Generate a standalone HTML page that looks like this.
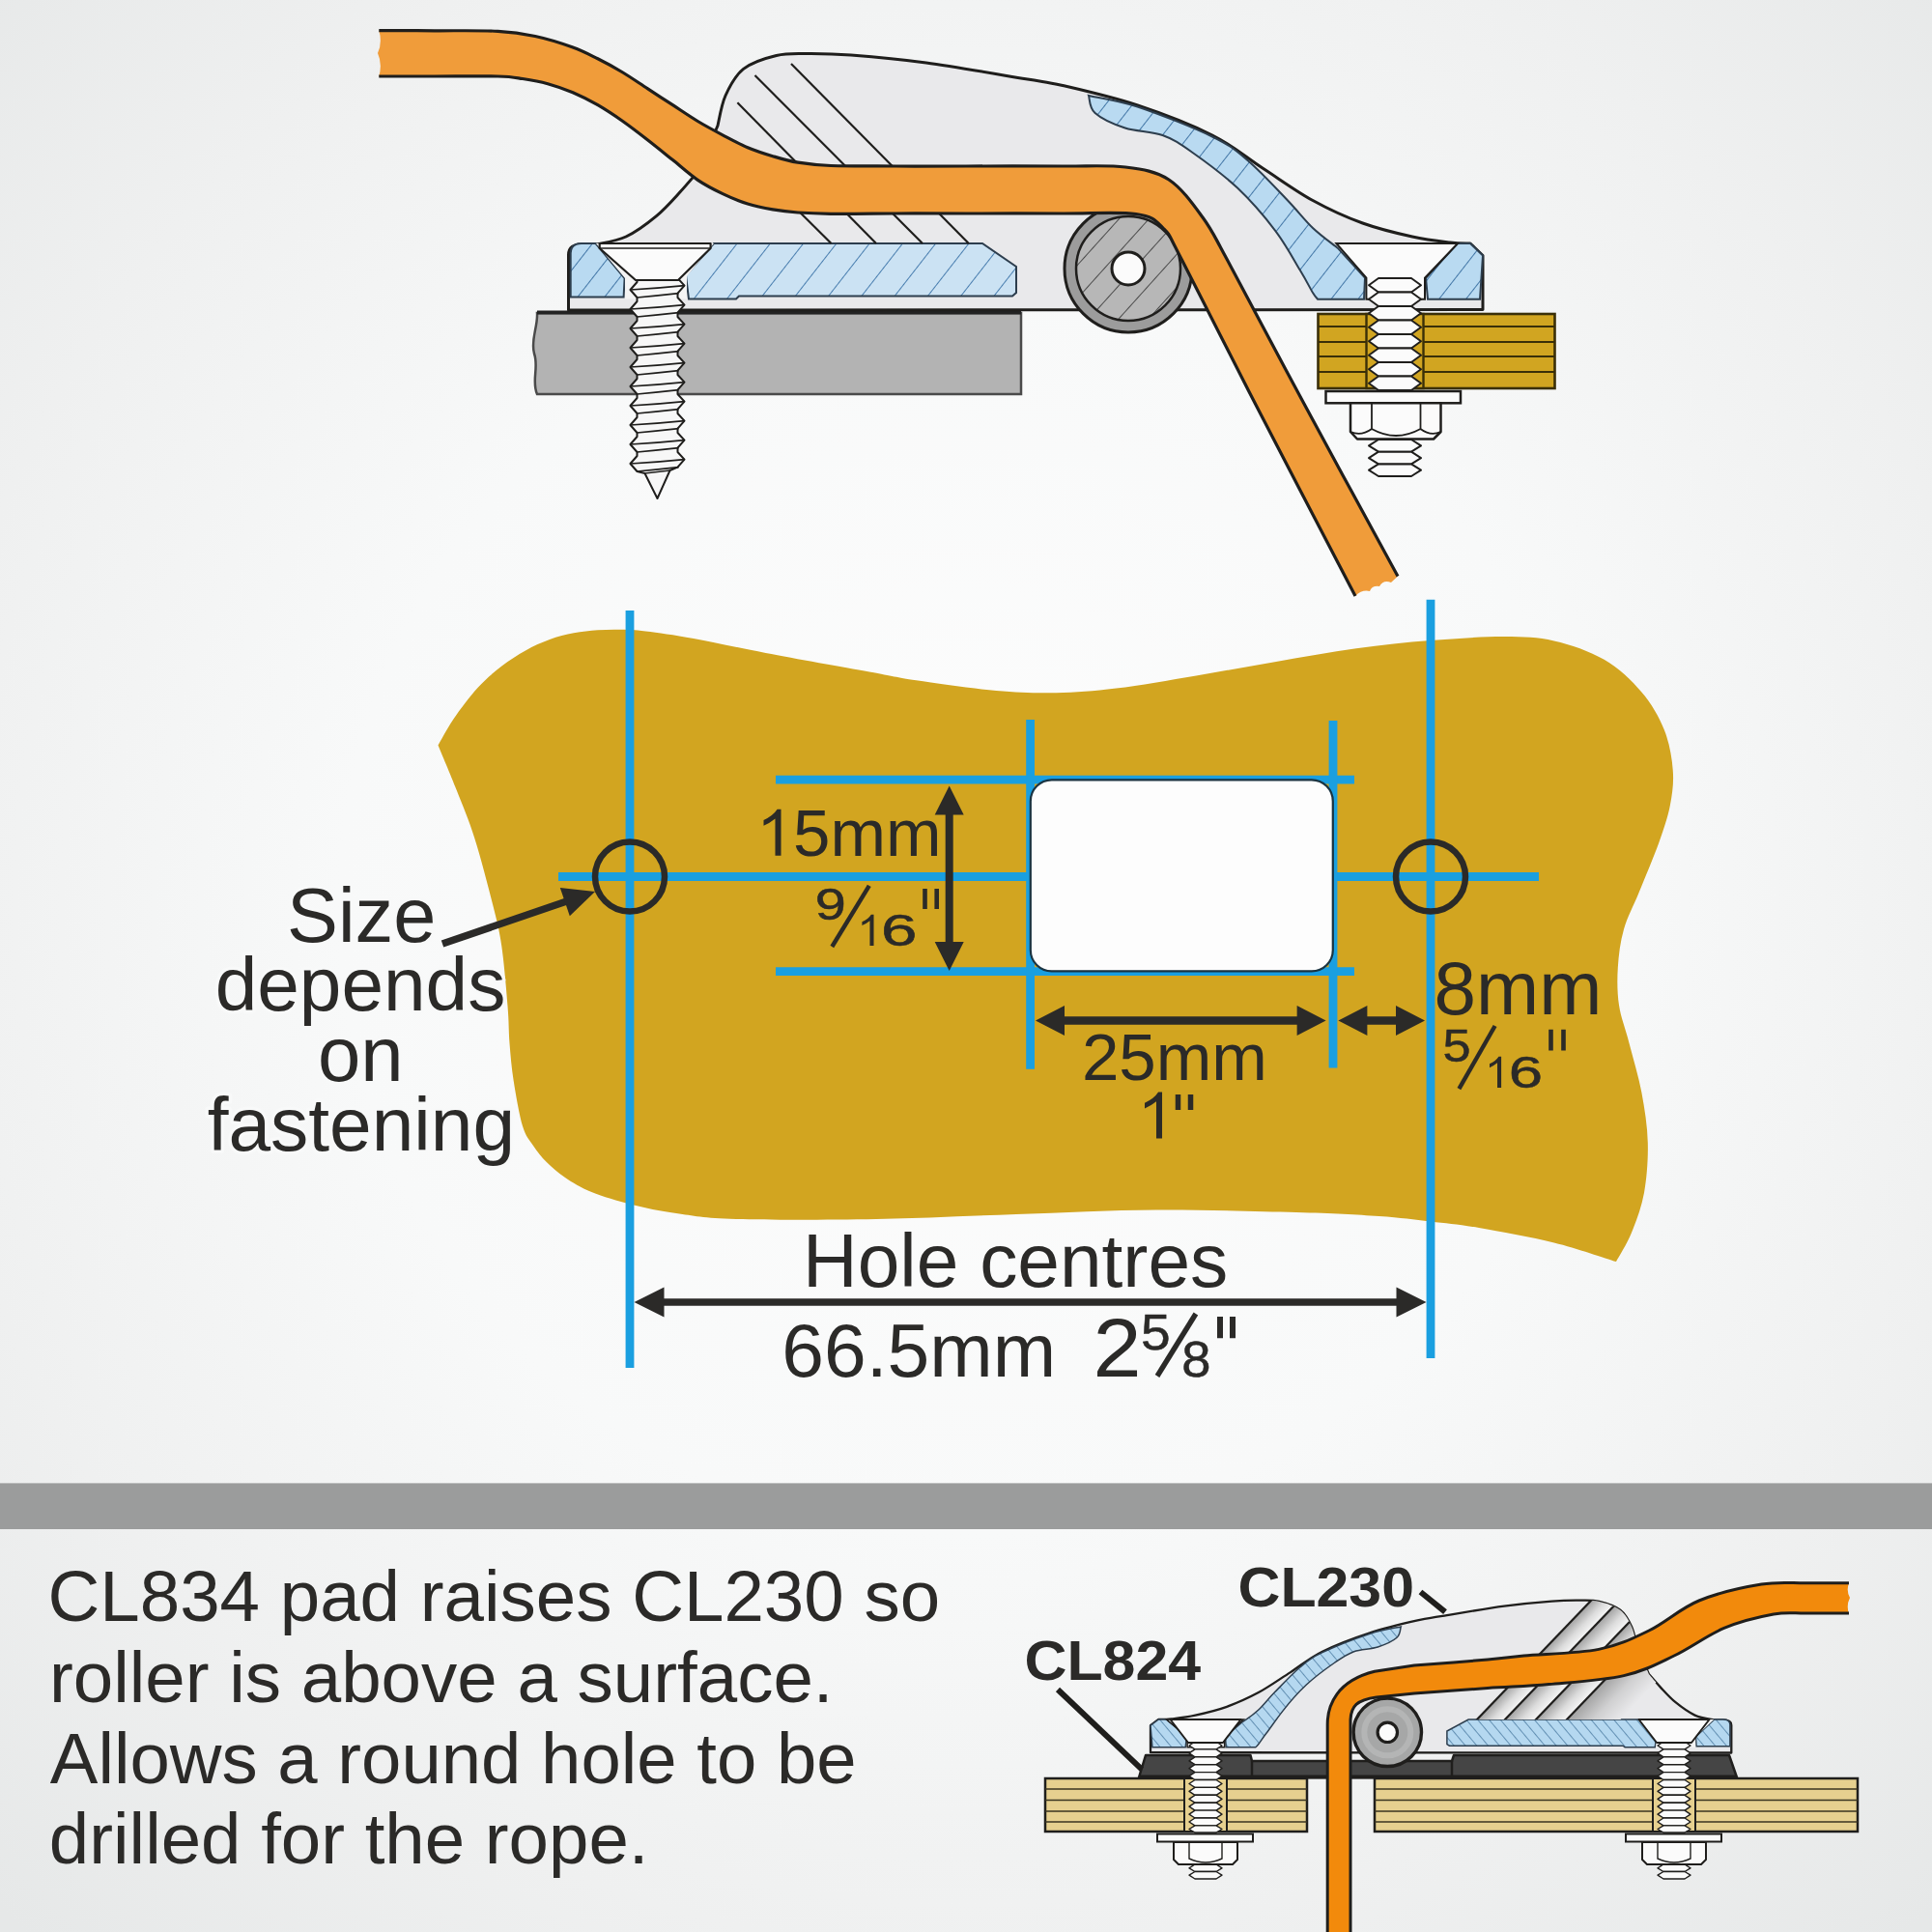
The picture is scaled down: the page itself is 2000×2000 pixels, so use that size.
<!DOCTYPE html>
<html><head><meta charset="utf-8"><title>CL230 fitting</title>
<style>
html,body{margin:0;padding:0;background:#f5f6f6;}
body{width:2000px;height:2000px;overflow:hidden;}
svg{display:block;font-family:"Liberation Sans",sans-serif;}
</style></head><body>
<svg width="2000" height="2000" viewBox="0 0 2000 2000">
<defs>
<radialGradient id="bg" cx="50%" cy="47%" r="72%">
<stop offset="0" stop-color="#fdfdfd"/><stop offset="0.45" stop-color="#f8f9f9"/><stop offset="0.75" stop-color="#eff0f0"/><stop offset="1" stop-color="#e6e8e8"/>
</radialGradient>
<pattern id="hb" width="27" height="27" patternUnits="userSpaceOnUse" patternTransform="rotate(38)">
<rect width="27" height="27" fill="#cbe2f3"/><line x1="0" y1="0" x2="0" y2="27" stroke="#3a73a8" stroke-width="1.8"/>
</pattern>
<pattern id="hb2" width="22" height="22" patternUnits="userSpaceOnUse" patternTransform="rotate(38)">
<rect width="22" height="22" fill="#b9daf1"/><line x1="0" y1="0" x2="0" y2="22" stroke="#356c9f" stroke-width="1.8"/>
</pattern>
<pattern id="hs" width="9" height="9" patternUnits="userSpaceOnUse" patternTransform="rotate(-40)">
<rect width="9" height="9" fill="#b5d8f0"/><line x1="0" y1="0" x2="0" y2="9" stroke="#2c5f8a" stroke-width="1.2"/>
</pattern>
<pattern id="hg" width="23" height="23" patternUnits="userSpaceOnUse" patternTransform="rotate(42)">
<rect width="23" height="23" fill="#b7b7b7"/><line x1="0" y1="0" x2="0" y2="23" stroke="#4a4a4a" stroke-width="2"/>
</pattern>
<linearGradient id="bluefade" x1="0" y1="0" x2="0" y2="1">
<stop offset="0" stop-color="#c3dff4" stop-opacity="0.9"/><stop offset="1" stop-color="#e2f0fa" stop-opacity="0.2"/>
</linearGradient>
<clipPath id="clipSmall"><use href="#bodys"/></clipPath>
<linearGradient id="rg" x1="0" y1="0" x2="0" y2="1">
<stop offset="0" stop-color="#a2a2a2"/><stop offset="0.55" stop-color="#dcdcdc"/><stop offset="1" stop-color="#f6f6f6"/>
</linearGradient>
<linearGradient id="rg2" x1="0" y1="0" x2="0" y2="1">
<stop offset="0" stop-color="#a2a2a2"/><stop offset="0.5" stop-color="#d0d0d1"/><stop offset="1" stop-color="#e9e9eb"/>
</linearGradient>
<clipPath id="clipAbove"><rect x="1400" y="1600" width="400" height="180"/></clipPath>
</defs>
<rect width="2000" height="2000" fill="url(#bg)"/>
<path d="M556,324 L1057,324 L1057,408 L556,408 C550,395 558,380 553,366 C549,352 557,338 556,324 Z" fill="#b3b3b3" stroke="#4a4a4a" stroke-width="2.5"/>
<line x1="556" y1="323.5" x2="1057" y2="323.5" stroke="#222" stroke-width="4"/>
<rect x="1364.5" y="325" width="245" height="77" fill="#d1a521" stroke="#3a2f08" stroke-width="2.6"/>
<line x1="1365" y1="338" x2="1609.5" y2="338" stroke="#3a2f08" stroke-width="2"/>
<line x1="1365" y1="354" x2="1609.5" y2="354" stroke="#3a2f08" stroke-width="2"/>
<line x1="1365" y1="369" x2="1609.5" y2="369" stroke="#3a2f08" stroke-width="2"/>
<line x1="1365" y1="385" x2="1609.5" y2="385" stroke="#3a2f08" stroke-width="2"/>
<rect x="1414.5" y="325" width="59" height="77" fill="#d1a521" stroke="#3a2f08" stroke-width="2.4"/>
<defs><path id="bodyp" d="M588.5,321 L588.5,264 Q588.5,253 602,253 L617,253 C622.2,251.7 637.6,249.9 648.0,245.0 C658.4,240.1 670.2,231.3 679.5,223.6 C688.8,215.9 696.8,206.6 704.0,198.8 C711.2,191.0 719.8,180.6 723.0,177.0 L743,130 C744.3,124.8 746.6,108.8 751.0,99.0 C755.4,89.2 760.8,78.3 769.6,71.4 C778.4,64.5 792.8,60.1 803.7,57.5 C814.6,54.9 821.9,55.6 834.8,55.5 C847.7,55.4 860.3,55.4 881.0,57.0 C901.7,58.6 928.6,60.9 958.8,65.0 C989.0,69.1 1038.5,77.9 1062.0,81.8 C1085.5,85.7 1080.7,84.0 1100.0,88.5 C1119.3,93.0 1151.8,100.4 1177.6,109.0 C1203.4,117.6 1233.4,129.2 1255.0,140.0 C1276.6,150.8 1289.7,162.8 1307.0,174.0 C1324.3,185.2 1341.7,198.0 1359.0,207.5 C1376.3,217.0 1393.4,224.8 1410.6,231.0 C1427.8,237.2 1446.9,241.7 1462.0,245.0 C1477.1,248.3 1491.0,249.8 1501.0,251.0 C1511.0,252.2 1518.5,251.8 1522.0,252.0 L1535,264.5 L1535,320.5 Z"/></defs>
<defs><path id="bodys" d="M1792.3,1814.5 L1792.3,1786.0 Q1792.3,1780.5 1783.7,1780.5 L1774.2,1780.5 C1770.9,1779.8 1761.1,1778.7 1754.5,1775.6 C1747.9,1772.5 1740.4,1767.0 1734.5,1762.2 C1728.6,1757.4 1723.5,1751.5 1718.9,1746.6 C1714.4,1741.7 1708.9,1735.2 1706.9,1732.9 L1694.2,1703.4 C1693.3,1700.2 1691.9,1690.1 1689.1,1684.0 C1686.3,1677.8 1682.9,1671.0 1677.3,1666.7 C1671.7,1662.3 1662.5,1659.6 1655.6,1657.9 C1648.7,1656.3 1644.0,1656.7 1635.9,1656.7 C1627.7,1656.6 1619.7,1656.6 1606.5,1657.6 C1593.3,1658.6 1576.3,1660.1 1557.1,1662.6 C1537.9,1665.2 1506.4,1670.7 1491.5,1673.2 C1476.6,1675.6 1479.6,1674.6 1467.4,1677.4 C1455.1,1680.2 1434.5,1684.9 1418.1,1690.3 C1401.7,1695.7 1382.6,1702.9 1368.9,1709.7 C1355.2,1716.5 1346.9,1724.0 1335.9,1731.1 C1324.9,1738.1 1313.8,1746.1 1302.8,1752.1 C1291.8,1758.0 1281.0,1762.9 1270.0,1766.8 C1259.1,1770.7 1247.0,1773.5 1237.4,1775.6 C1227.8,1777.7 1219.0,1778.6 1212.6,1779.4 C1206.3,1780.1 1201.5,1779.9 1199.3,1780.0 L1191.0,1786.2 L1191.0,1814.2 Z"/></defs>
<use href="#bodyp" fill="#e9e9eb" stroke="#1f1e1c" stroke-width="3" stroke-linejoin="round"/>
<path d="M739.0,252.0 L1017.0,252.0 L1052.0,276.0 L1052.0,303.0 L1048.0,306.5 L765.0,306.5 L762.0,309.5 L713.0,309.5 L710.0,285.0 Z" fill="url(#hb)" stroke="#2d3e4e" stroke-width="2"/>
<path d="M602,252 L616.6,252 L646.6,288 L645.6,307.6 L590.7,307.6 L590.7,262 Q591,252 602,252 Z" fill="url(#hb2)" stroke="#2d3e4e" stroke-width="2"/>
<path d="M1127.0,99.0 C1135.4,100.9 1156.3,103.4 1177.6,110.5 C1198.9,117.6 1236.0,132.2 1255.0,141.5 C1274.0,150.8 1278.5,155.0 1291.5,166.0 C1304.5,177.0 1321.8,195.8 1333.0,207.5 C1344.2,219.2 1350.4,227.8 1359.0,236.0 C1367.6,244.2 1380.4,253.2 1384.7,256.7 L1413,287.7 L1412,309.7 L1364,309.7 C1363.2,308.6 1362.0,307.9 1359.0,303.0 C1356.0,298.1 1352.5,290.7 1346.0,280.0 C1339.5,269.3 1330.8,252.8 1320.0,238.6 C1309.2,224.4 1295.2,208.0 1281.0,194.6 C1266.8,181.2 1247.5,167.1 1234.6,158.0 C1221.7,148.9 1215.2,144.2 1203.5,140.0 C1191.8,135.8 1176.4,136.3 1164.7,132.5 C1153.0,128.7 1139.9,122.6 1133.6,117.0 C1127.3,111.4 1128.1,102.0 1127.0,99.0 Z" fill="url(#hb2)" stroke="#2d3e4e" stroke-width="2"/>
<path d="M1509,252 L1522,252 L1535,264.5 L1532,309.7 L1478,309.7 L1476,287.7 Z" fill="url(#hb2)" stroke="#2d3e4e" stroke-width="2"/>
<path d="M1383.4,252 L1509,252 L1475,287.7 L1475,309.7 L1414.4,309.7 L1414.4,287.7 Z" fill="#fbfbfb" stroke="#1f1e1c" stroke-width="2"/>
<path d="M617,252 L739,252 L711,286 L711,309.5 L647,309.5 L647,288 Z" fill="#f4f4f4" stroke="none"/>
<line x1="790" y1="182" x2="860.5" y2="252" stroke="#1f1e1c" stroke-width="2.2"/>
<line x1="763.4" y1="106.3" x2="907" y2="252" stroke="#1f1e1c" stroke-width="2.2"/>
<line x1="781.5" y1="78" x2="955" y2="252" stroke="#1f1e1c" stroke-width="2.2"/>
<line x1="819" y1="66" x2="1002.8" y2="252" stroke="#1f1e1c" stroke-width="2.2"/>
<circle cx="1168" cy="278" r="66" fill="#9c9c9c" stroke="#1f1e1c" stroke-width="3"/>
<circle cx="1168" cy="278" r="54" fill="url(#hg)" stroke="#1f1e1c" stroke-width="2.5"/>
<circle cx="1168" cy="278" r="17" fill="#fbfbfb" stroke="#1f1e1c" stroke-width="3"/>
<path d="M659.5,290.0 L659.5,292.0 L652.5,300.0 L659.5,308.0 L659.5,312.0 L652.5,320.0 L659.5,328.0 L659.5,332.0 L652.5,340.0 L659.5,348.0 L659.5,352.0 L652.5,360.0 L659.5,368.0 L659.5,372.0 L652.5,380.0 L659.5,388.0 L659.5,392.0 L652.5,400.0 L659.5,408.0 L659.5,412.0 L652.5,420.0 L659.5,428.0 L659.5,432.0 L652.5,440.0 L659.5,448.0 L659.5,452.0 L652.5,460.0 L659.5,468.0 L659.5,472.0 L652.5,480.0 L659.5,488.0 L667.5,490.0 L680.5,516.0 L693.5,487.0 L701.5,483.6 L708.5,475.6 L701.5,468.0 L701.5,463.6 L708.5,455.6 L701.5,448.0 L701.5,443.6 L708.5,435.6 L701.5,428.0 L701.5,423.6 L708.5,415.6 L701.5,408.0 L701.5,403.6 L708.5,395.6 L701.5,388.0 L701.5,383.6 L708.5,375.6 L701.5,368.0 L701.5,363.6 L708.5,355.6 L701.5,348.0 L701.5,343.6 L708.5,335.6 L701.5,328.0 L701.5,323.6 L708.5,315.6 L701.5,308.0 L701.5,303.6 L708.5,295.6 L701.5,288.0 L701.5,290.0 Z" fill="#f7f7f7" stroke="#1f1e1c" stroke-width="2.0" stroke-linejoin="round"/><path d="M652.5,300.0 Q680.5,298.4 708.5,295.6 M659.5,308.0 Q680.5,306.0 702.5,303.6" fill="none" stroke="#1f1e1c" stroke-width="1.6"/><path d="M652.5,320.0 Q680.5,318.4 708.5,315.6 M659.5,328.0 Q680.5,326.0 702.5,323.6" fill="none" stroke="#1f1e1c" stroke-width="1.6"/><path d="M652.5,340.0 Q680.5,338.4 708.5,335.6 M659.5,348.0 Q680.5,346.0 702.5,343.6" fill="none" stroke="#1f1e1c" stroke-width="1.6"/><path d="M652.5,360.0 Q680.5,358.4 708.5,355.6 M659.5,368.0 Q680.5,366.0 702.5,363.6" fill="none" stroke="#1f1e1c" stroke-width="1.6"/><path d="M652.5,380.0 Q680.5,378.4 708.5,375.6 M659.5,388.0 Q680.5,386.0 702.5,383.6" fill="none" stroke="#1f1e1c" stroke-width="1.6"/><path d="M652.5,400.0 Q680.5,398.4 708.5,395.6 M659.5,408.0 Q680.5,406.0 702.5,403.6" fill="none" stroke="#1f1e1c" stroke-width="1.6"/><path d="M652.5,420.0 Q680.5,418.4 708.5,415.6 M659.5,428.0 Q680.5,426.0 702.5,423.6" fill="none" stroke="#1f1e1c" stroke-width="1.6"/><path d="M652.5,440.0 Q680.5,438.4 708.5,435.6 M659.5,448.0 Q680.5,446.0 702.5,443.6" fill="none" stroke="#1f1e1c" stroke-width="1.6"/><path d="M652.5,460.0 Q680.5,458.4 708.5,455.6 M659.5,468.0 Q680.5,466.0 702.5,463.6" fill="none" stroke="#1f1e1c" stroke-width="1.6"/><path d="M652.5,480.0 Q680.5,478.4 708.5,475.6 M659.5,488.0 Q680.5,486.0 702.5,483.6" fill="none" stroke="#1f1e1c" stroke-width="1.6"/><line x1="667.5" y1="490.0" x2="693.5" y2="487.0" stroke="#1f1e1c" stroke-width="1.6"/>
<path d="M620.7,252 L735.6,252 L735.6,257 L702,290 L658,290 L620.7,257 Z" fill="#fbfbfb" stroke="#1f1e1c" stroke-width="2.2" stroke-linejoin="round"/>
<line x1="620.7" y1="257" x2="735.6" y2="257" stroke="#1f1e1c" stroke-width="1.6"/>
<path d="M1417.0,295.2 L1427.0,288.0 L1461.0,288.0 L1471.0,295.2 L1461.0,302.5 L1427.0,302.5 Z" fill="#fbfbfb" stroke="#1f1e1c" stroke-width="2.0" stroke-linejoin="round"/><path d="M1417.0,309.8 L1427.0,302.5 L1461.0,302.5 L1471.0,309.8 L1461.0,317.0 L1427.0,317.0 Z" fill="#fbfbfb" stroke="#1f1e1c" stroke-width="2.0" stroke-linejoin="round"/><path d="M1417.0,324.2 L1427.0,317.0 L1461.0,317.0 L1471.0,324.2 L1461.0,331.5 L1427.0,331.5 Z" fill="#fbfbfb" stroke="#1f1e1c" stroke-width="2.0" stroke-linejoin="round"/><path d="M1417.0,338.8 L1427.0,331.5 L1461.0,331.5 L1471.0,338.8 L1461.0,346.0 L1427.0,346.0 Z" fill="#fbfbfb" stroke="#1f1e1c" stroke-width="2.0" stroke-linejoin="round"/><path d="M1417.0,353.2 L1427.0,346.0 L1461.0,346.0 L1471.0,353.2 L1461.0,360.5 L1427.0,360.5 Z" fill="#fbfbfb" stroke="#1f1e1c" stroke-width="2.0" stroke-linejoin="round"/><path d="M1417.0,367.8 L1427.0,360.5 L1461.0,360.5 L1471.0,367.8 L1461.0,375.0 L1427.0,375.0 Z" fill="#fbfbfb" stroke="#1f1e1c" stroke-width="2.0" stroke-linejoin="round"/><path d="M1417.0,382.2 L1427.0,375.0 L1461.0,375.0 L1471.0,382.2 L1461.0,389.5 L1427.0,389.5 Z" fill="#fbfbfb" stroke="#1f1e1c" stroke-width="2.0" stroke-linejoin="round"/><path d="M1417.0,396.8 L1427.0,389.5 L1461.0,389.5 L1471.0,396.8 L1461.0,404.0 L1427.0,404.0 Z" fill="#fbfbfb" stroke="#1f1e1c" stroke-width="2.0" stroke-linejoin="round"/>
<path d="M1417.0,461.4 L1427.0,455.0 L1461.0,455.0 L1471.0,461.4 L1461.0,467.7 L1427.0,467.7 Z" fill="#fbfbfb" stroke="#1f1e1c" stroke-width="2.0" stroke-linejoin="round"/><path d="M1417.0,474.1 L1427.0,467.7 L1461.0,467.7 L1471.0,474.1 L1461.0,480.4 L1427.0,480.4 Z" fill="#fbfbfb" stroke="#1f1e1c" stroke-width="2.0" stroke-linejoin="round"/><path d="M1417.0,486.7 L1427.0,480.4 L1461.0,480.4 L1471.0,486.7 L1461.0,493.0 L1427.0,493.0 Z" fill="#fbfbfb" stroke="#1f1e1c" stroke-width="2.0" stroke-linejoin="round"/>
<rect x="1372.5" y="405" width="139.5" height="12.3" fill="#fbfbfb" stroke="#1f1e1c" stroke-width="2.5"/>
<path d="M1398,417.3 L1491.5,417.3 L1491.5,447 L1484,454.5 L1405,454.5 L1398,447 Z" fill="#fbfbfb" stroke="#1f1e1c" stroke-width="2.5" stroke-linejoin="round"/>
<path d="M1420,417.3 L1420,444 Q1445,458 1470.5,444 L1470.5,417.3 M1398,447 Q1409,452 1420,444 M1470.5,444 Q1481,452 1491.5,447" fill="none" stroke="#1f1e1c" stroke-width="1.8"/>
<path d="M392.3,31.6 C401.9,31.6 429.5,31.7 450.0,31.8 C470.5,31.9 498.0,31.3 515.3,32.3 C532.6,33.2 541.0,34.7 554.0,37.5 C567.0,40.3 582.2,45.1 593.0,49.0 C603.8,52.9 610.2,56.5 618.8,60.8 C627.4,65.1 636.1,69.8 644.7,75.0 C653.3,80.2 662.0,86.3 670.6,91.9 C679.2,97.5 687.8,103.1 696.4,108.7 C705.0,114.3 713.7,120.3 722.3,125.5 C730.9,130.7 739.6,135.3 748.2,139.8 C756.8,144.3 765.4,149.0 774.0,152.7 C782.6,156.3 791.4,159.1 800.0,161.7 C808.6,164.3 815.9,166.6 825.9,168.2 C835.9,169.8 843.0,170.9 860.0,171.5 C877.0,172.1 904.7,171.9 928.0,172.0 C951.3,172.1 971.3,172.0 1000.0,172.0 C1028.7,172.0 1072.5,171.8 1100.0,172.0 C1127.5,172.2 1146.7,170.7 1165.0,173.0 C1183.3,175.3 1196.7,177.3 1210.0,186.0 C1223.3,194.7 1234.8,211.0 1245.0,225.0 C1255.2,239.0 1253.5,237.8 1271.0,270.0 C1288.5,302.2 1320.7,363.6 1350.0,418.0 C1379.3,472.4 1430.8,566.7 1447.0,596.4 L1440,603 Q1432,600 1428,607 Q1420,606 1418,612 Q1410,610 1403,617 C1385.8,584.0 1329.8,476.8 1300.0,419.0 C1270.2,361.2 1240.0,300.5 1224.0,270.0 C1208.0,239.5 1212.0,244.1 1204.0,236.0 C1196.0,227.9 1193.3,224.0 1176.0,221.5 C1158.7,219.0 1129.3,221.1 1100.0,221.0 C1070.7,220.9 1028.7,221.0 1000.0,221.0 C971.3,221.0 951.3,220.9 928.0,221.0 C904.7,221.1 877.0,221.5 860.0,221.3 C843.0,221.1 835.9,220.7 825.9,220.0 C815.9,219.3 808.6,218.4 800.0,216.9 C791.4,215.4 782.6,213.7 774.0,211.0 C765.4,208.3 756.8,204.7 748.2,200.6 C739.6,196.5 730.9,192.1 722.3,186.3 C713.7,180.5 705.0,172.5 696.4,165.6 C687.8,158.7 679.2,151.7 670.6,145.0 C662.0,138.3 653.3,131.6 644.7,125.5 C636.1,119.5 627.4,113.7 618.8,108.7 C610.2,103.8 601.6,99.5 593.0,95.8 C584.4,92.1 575.7,89.1 567.0,86.7 C558.3,84.3 549.6,82.8 541.0,81.5 C532.4,80.2 530.5,79.4 515.3,79.0 C500.1,78.6 470.5,79.0 450.0,79.0 C429.5,79.0 401.9,79.0 392.3,79.0 Q396,66 391,55 Q396,44 392.3,31.6 Z" fill="#f09c3a"/>
<path d="M392.3,31.6 C401.9,31.6 429.5,31.7 450.0,31.8 C470.5,31.9 498.0,31.3 515.3,32.3 C532.6,33.2 541.0,34.7 554.0,37.5 C567.0,40.3 582.2,45.1 593.0,49.0 C603.8,52.9 610.2,56.5 618.8,60.8 C627.4,65.1 636.1,69.8 644.7,75.0 C653.3,80.2 662.0,86.3 670.6,91.9 C679.2,97.5 687.8,103.1 696.4,108.7 C705.0,114.3 713.7,120.3 722.3,125.5 C730.9,130.7 739.6,135.3 748.2,139.8 C756.8,144.3 765.4,149.0 774.0,152.7 C782.6,156.3 791.4,159.1 800.0,161.7 C808.6,164.3 815.9,166.6 825.9,168.2 C835.9,169.8 843.0,170.9 860.0,171.5 C877.0,172.1 904.7,171.9 928.0,172.0 C951.3,172.1 971.3,172.0 1000.0,172.0 C1028.7,172.0 1072.5,171.8 1100.0,172.0 C1127.5,172.2 1146.7,170.7 1165.0,173.0 C1183.3,175.3 1196.7,177.3 1210.0,186.0 C1223.3,194.7 1234.8,211.0 1245.0,225.0 C1255.2,239.0 1253.5,237.8 1271.0,270.0 C1288.5,302.2 1320.7,363.6 1350.0,418.0 C1379.3,472.4 1430.8,566.7 1447.0,596.4" fill="none" stroke="#1f1e1c" stroke-width="3.2" stroke-linecap="butt"/>
<path d="M1403.0,617.0 C1385.8,584.0 1329.8,476.8 1300.0,419.0 C1270.2,361.2 1240.0,300.5 1224.0,270.0 C1208.0,239.5 1212.0,244.1 1204.0,236.0 C1196.0,227.9 1193.3,224.0 1176.0,221.5 C1158.7,219.0 1129.3,221.1 1100.0,221.0 C1070.7,220.9 1028.7,221.0 1000.0,221.0 C971.3,221.0 951.3,220.9 928.0,221.0 C904.7,221.1 877.0,221.5 860.0,221.3 C843.0,221.1 835.9,220.7 825.9,220.0 C815.9,219.3 808.6,218.4 800.0,216.9 C791.4,215.4 782.6,213.7 774.0,211.0 C765.4,208.3 756.8,204.7 748.2,200.6 C739.6,196.5 730.9,192.1 722.3,186.3 C713.7,180.5 705.0,172.5 696.4,165.6 C687.8,158.7 679.2,151.7 670.6,145.0 C662.0,138.3 653.3,131.6 644.7,125.5 C636.1,119.5 627.4,113.7 618.8,108.7 C610.2,103.8 601.6,99.5 593.0,95.8 C584.4,92.1 575.7,89.1 567.0,86.7 C558.3,84.3 549.6,82.8 541.0,81.5 C532.4,80.2 530.5,79.4 515.3,79.0 C500.1,78.6 470.5,79.0 450.0,79.0 C429.5,79.0 401.9,79.0 392.3,79.0" fill="none" stroke="#1f1e1c" stroke-width="3.2" stroke-linecap="butt"/>
<path d="M453.5,771.6 C456.2,767.0 462.9,753.9 469.7,744.0 C476.5,734.1 486.2,721.1 494.5,712.0 C502.8,702.9 511.1,696.0 519.4,689.6 C527.6,683.2 535.7,678.0 544.0,673.4 C552.3,668.8 560.7,665.0 569.0,662.0 C577.3,659.0 585.7,656.9 594.0,655.3 C602.3,653.7 610.5,652.9 618.8,652.3 C627.1,651.7 635.3,651.6 643.6,651.8 C651.9,652.0 656.0,652.0 668.4,653.5 C680.8,655.0 697.3,657.2 718.0,661.0 C738.7,664.8 762.4,670.2 792.7,676.0 C823.0,681.8 874.0,690.8 900.0,695.5 C926.0,700.2 926.5,701.0 948.4,704.3 C970.3,707.5 1007.1,712.9 1031.3,715.0 C1055.5,717.1 1072.7,717.6 1093.4,717.2 C1114.1,716.8 1131.3,715.6 1155.5,712.6 C1179.7,709.6 1210.7,704.0 1238.3,699.4 C1265.9,694.8 1293.4,689.6 1321.0,684.9 C1348.6,680.2 1377.4,674.9 1404.0,671.2 C1430.6,667.6 1455.2,665.0 1480.7,663.0 C1506.2,661.0 1535.7,658.9 1557.0,659.0 C1578.3,659.1 1591.5,659.4 1608.8,663.4 C1626.1,667.4 1645.5,673.9 1660.6,682.8 C1675.7,691.6 1689.1,704.4 1699.4,716.5 C1709.8,728.6 1717.3,741.9 1722.7,755.3 C1728.1,768.7 1730.7,783.8 1731.7,796.7 C1732.8,809.7 1731.4,820.5 1729.0,833.0 C1726.6,845.5 1722.9,856.6 1717.5,871.7 C1712.1,886.8 1702.9,908.5 1696.8,923.5 C1690.7,938.5 1684.7,949.0 1681.0,962.0 C1677.3,975.0 1675.6,988.7 1674.8,1001.8 C1674.0,1014.9 1674.1,1027.7 1676.0,1040.6 C1677.9,1053.5 1682.5,1064.3 1686.4,1079.4 C1690.3,1094.5 1696.2,1113.7 1699.4,1131.0 C1702.6,1148.3 1705.4,1165.7 1705.8,1183.0 C1706.2,1200.3 1704.8,1219.2 1702.0,1234.7 C1699.2,1250.2 1693.8,1264.1 1689.0,1276.0 C1684.2,1287.9 1675.7,1301.0 1673.0,1306.0 C1662.3,1302.7 1632.5,1292.2 1608.8,1286.4 C1585.1,1280.6 1552.3,1274.7 1531.0,1271.0 C1509.7,1267.3 1497.9,1266.4 1480.7,1264.4 C1463.5,1262.4 1450.7,1260.6 1427.6,1259.0 C1404.5,1257.4 1380.4,1256.1 1342.0,1255.0 C1303.6,1253.9 1245.3,1252.2 1197.0,1252.5 C1148.7,1252.8 1100.3,1255.4 1052.0,1257.0 C1003.7,1258.6 955.3,1261.2 907.0,1262.0 C858.7,1262.8 796.5,1263.0 762.0,1262.0 C727.5,1261.0 718.0,1258.5 700.0,1256.0 C682.0,1253.5 668.6,1250.7 654.0,1247.0 C639.4,1243.3 623.9,1238.7 612.4,1234.0 C600.9,1229.3 592.8,1224.2 585.0,1219.0 C577.2,1213.8 571.3,1208.5 565.8,1203.0 C560.3,1197.5 556.1,1192.2 552.0,1186.0 C547.9,1179.8 544.4,1177.0 541.0,1165.8 C537.6,1154.6 534.0,1133.3 531.7,1119.0 C529.5,1104.7 528.5,1092.9 527.5,1080.0 C526.5,1067.1 526.9,1058.3 525.5,1041.6 C524.1,1024.8 521.9,997.1 519.3,979.5 C516.7,961.9 514.7,954.6 510.0,936.0 C505.3,917.4 497.5,887.4 491.3,867.7 C485.1,848.0 479.0,834.0 472.7,818.0 C466.4,802.0 456.7,779.3 453.5,771.6 Z" fill="#d2a520"/>
<line x1="652" y1="632" x2="652" y2="1416" stroke="#1a9fe0" stroke-width="8.8"/>
<line x1="1481" y1="620.7" x2="1481" y2="1406" stroke="#1a9fe0" stroke-width="8.8"/>
<line x1="578" y1="907.5" x2="1066.6" y2="907.5" stroke="#1a9fe0" stroke-width="8.8"/>
<line x1="1380" y1="907.5" x2="1593" y2="907.5" stroke="#1a9fe0" stroke-width="8.8"/>
<line x1="803" y1="807.2" x2="1402" y2="807.2" stroke="#1a9fe0" stroke-width="8.8"/>
<line x1="803" y1="1005.6" x2="1402" y2="1005.6" stroke="#1a9fe0" stroke-width="8.8"/>
<line x1="1066.6" y1="745" x2="1066.6" y2="1106.7" stroke="#1a9fe0" stroke-width="8.8"/>
<line x1="1380" y1="746" x2="1380" y2="1105.5" stroke="#1a9fe0" stroke-width="8.8"/>
<rect x="1066.8" y="807.4" width="313" height="198" rx="22" ry="22" fill="#fdfdfd" stroke="#1a3442" stroke-width="2.2"/>
<circle cx="652" cy="907.5" r="36" fill="none" stroke="#2b2a28" stroke-width="6.5"/>
<circle cx="1481" cy="907.5" r="36" fill="none" stroke="#2b2a28" stroke-width="6.5"/>
<line x1="982.7" y1="837.5" x2="982.7" y2="981.0" stroke="#2b2a28" stroke-width="8"/><path d="M982.7,1005.0 L967.7,975.0 L997.7,975.0 Z" fill="#2b2a28"/><path d="M982.7,813.5 L967.7,843.5 L997.7,843.5 Z" fill="#2b2a28"/>
<line x1="1096.0" y1="1056.5" x2="1348.6" y2="1056.5" stroke="#2b2a28" stroke-width="8.5"/><path d="M1372.6,1056.5 L1342.6,1072.0 L1342.6,1041.0 Z" fill="#2b2a28"/><path d="M1072.0,1056.5 L1102.0,1072.0 L1102.0,1041.0 Z" fill="#2b2a28"/>
<line x1="1409.4" y1="1056.5" x2="1451.0" y2="1056.5" stroke="#2b2a28" stroke-width="8.5"/><path d="M1475.0,1056.5 L1445.0,1072.0 L1445.0,1041.0 Z" fill="#2b2a28"/><path d="M1385.4,1056.5 L1415.4,1072.0 L1415.4,1041.0 Z" fill="#2b2a28"/>
<line x1="681.3" y1="1348.0" x2="1451.7" y2="1348.0" stroke="#2b2a28" stroke-width="7.5"/><path d="M1476.5,1348.0 L1445.5,1363.5 L1445.5,1332.5 Z" fill="#2b2a28"/><path d="M656.5,1348.0 L687.5,1363.5 L687.5,1332.5 Z" fill="#2b2a28"/>
<line x1="458.0" y1="977.0" x2="591.0" y2="931.5" stroke="#2b2a28" stroke-width="7.5"/><path d="M616.0,923.0 L589.8,948.3 L579.8,919.0 Z" fill="#2b2a28"/>
<text transform="translate(297.00,974.50) scale(1.0000,1)" font-size="79.33" font-weight="normal" fill="#2b2a28" stroke="#f8f9f9" stroke-width="7" stroke-linejoin="round" paint-order="stroke">Size</text>
<text transform="translate(222.71,1045.50) scale(1.0000,1)" font-size="78.35" font-weight="normal" fill="#2b2a28" stroke="#f8f9f9" stroke-width="7" stroke-linejoin="round" paint-order="stroke">depends</text>
<text transform="translate(328.95,1118.50) scale(1.0000,1)" font-size="79.67" font-weight="normal" fill="#2b2a28" stroke="#f8f9f9" stroke-width="7" stroke-linejoin="round" paint-order="stroke">on</text>
<text transform="translate(214.69,1191.00) scale(1.0000,1)" font-size="78.44" font-weight="normal" fill="#2b2a28" stroke="#f8f9f9" stroke-width="7" stroke-linejoin="round" paint-order="stroke">fastening</text>
<path d="M808.52,885.70 L802.49,885.70 L802.49,847.48 Q796.73,852.13 790.50,854.74 L790.50,848.92 Q800.16,844.60 804.61,837.75 L808.52,837.75 Z" fill="#2b2a28"/>
<text transform="translate(821.10,885.70) scale(1.0081,1)" font-size="68.5" font-weight="normal" fill="#2b2a28" >5mm</text>
<text transform="translate(1119.92,1117.60) scale(1.0000,1)" font-size="69.12" font-weight="normal" fill="#2b2a28" >25mm</text>
<path d="M1203.02,1178.50 L1196.99,1178.50 L1196.99,1140.28 Q1191.23,1144.93 1185.00,1147.54 L1185.00,1141.72 Q1194.66,1137.40 1199.11,1130.55 L1203.02,1130.55 Z" fill="#2b2a28"/>
<path d="M1219.5,1133 v16 M1232.5,1133 v16" stroke="#2b2a28" stroke-width="5.5" fill="none"/>
<text transform="translate(1484.60,1049.60) scale(1.0000,1)" font-size="78.19" font-weight="normal" fill="#2b2a28" >8mm</text>
<text transform="translate(831.07,1331.70) scale(1.0000,1)" font-size="78.43" font-weight="normal" fill="#2b2a28" >Hole centres</text>
<text transform="translate(809.31,1424.90) scale(1.0001,1)" font-size="78.58" font-weight="normal" fill="#2b2a28" >66.5mm</text>
<text transform="translate(843.70,951.70) scale(1.2252,1)" font-size="47" font-weight="normal" fill="#2b2a28" stroke="#2b2a28" stroke-width="0.5">9</text>
<path d="M904.50,978.90 L900.45,978.90 L900.45,953.23 Q896.59,956.36 892.40,958.11 L892.40,954.20 Q898.89,951.30 901.88,946.70 L904.50,946.70 Z" fill="#2b2a28"/>
<text transform="translate(911.88,978.90) scale(1.4653,1)" font-size="46" font-weight="normal" fill="#2b2a28" stroke="#2b2a28" stroke-width="0.5">6</text>
<line x1="861.3" y1="980" x2="899.8" y2="916.8" stroke="#2b2a28" stroke-width="4.4"/>
<path d="M957.5,920 V941 M969.7,920 V941" stroke="#2b2a28" stroke-width="4.6" fill="none"/>
<text transform="translate(1493.41,1098.50) scale(1.0675,1)" font-size="49" font-weight="normal" fill="#2b2a28" stroke="#2b2a28" stroke-width="0.5">5</text>
<path d="M1554.10,1126.00 L1550.05,1126.00 L1550.05,1100.33 Q1546.19,1103.46 1542.00,1105.21 L1542.00,1101.30 Q1548.49,1098.40 1551.48,1093.80 L1554.10,1093.80 Z" fill="#2b2a28"/>
<text transform="translate(1561.67,1126.00) scale(1.3805,1)" font-size="46" font-weight="normal" fill="#2b2a28" stroke="#2b2a28" stroke-width="0.5">6</text>
<line x1="1510.4" y1="1127.2" x2="1547.6" y2="1062" stroke="#2b2a28" stroke-width="4.4"/>
<path d="M1605.5,1065.7 V1087.5 M1618.5,1065.7 V1087.5" stroke="#2b2a28" stroke-width="4.6" fill="none"/>
<text transform="translate(1131.47,1424.50) scale(1.0588,1)" font-size="85" font-weight="normal" fill="#2b2a28" >2</text>
<text transform="translate(1181.00,1396.50) scale(1.0586,1)" font-size="52" font-weight="normal" fill="#2b2a28" stroke="#2b2a28" stroke-width="0.5">5</text>
<text transform="translate(1223.14,1424.50) scale(1.0451,1)" font-size="52" font-weight="normal" fill="#2b2a28" stroke="#2b2a28" stroke-width="0.5">8</text>
<line x1="1198" y1="1424.5" x2="1237.9" y2="1360" stroke="#2b2a28" stroke-width="5.4"/>
<path d="M1263,1363 V1385.3 M1276,1363 V1385.3" stroke="#2b2a28" stroke-width="6" fill="none"/>
<rect x="0" y="1535.4" width="2000" height="47.6" fill="#9b9c9c"/>
<text transform="translate(49.52,1678.00) scale(1.0000,1)" font-size="74.5" font-weight="normal" fill="#2b2a28" >CL834 pad raises CL230 so</text>
<text transform="translate(50.95,1762.00) scale(1.0000,1)" font-size="74.52" font-weight="normal" fill="#2b2a28" >roller is above a surface.</text>
<text transform="translate(51.85,1845.50) scale(1.0001,1)" font-size="74.34" font-weight="normal" fill="#2b2a28" >Allows a round hole to be</text>
<text transform="translate(50.87,1929.00) scale(0.9999,1)" font-size="74.45" font-weight="normal" fill="#2b2a28" >drilled for the rope.</text>
<rect x="1082" y="1841" width="271" height="55" fill="#e6d08f" stroke="#1f1e1c" stroke-width="2.5"/>
<line x1="1082" y1="1852" x2="1353" y2="1852" stroke="#3a3420" stroke-width="1.5"/>
<line x1="1082" y1="1863.5" x2="1353" y2="1863.5" stroke="#3a3420" stroke-width="1.5"/>
<line x1="1082" y1="1875" x2="1353" y2="1875" stroke="#3a3420" stroke-width="1.5"/>
<line x1="1082" y1="1886" x2="1353" y2="1886" stroke="#3a3420" stroke-width="1.5"/>
<rect x="1423" y="1841" width="500" height="55" fill="#e6d08f" stroke="#1f1e1c" stroke-width="2.5"/>
<line x1="1423" y1="1852" x2="1923" y2="1852" stroke="#3a3420" stroke-width="1.5"/>
<line x1="1423" y1="1863.5" x2="1923" y2="1863.5" stroke="#3a3420" stroke-width="1.5"/>
<line x1="1423" y1="1875" x2="1923" y2="1875" stroke="#3a3420" stroke-width="1.5"/>
<line x1="1423" y1="1886" x2="1923" y2="1886" stroke="#3a3420" stroke-width="1.5"/>
<rect x="1226" y="1841" width="44" height="55" fill="#e6d08f" stroke="#1f1e1c" stroke-width="2"/>
<rect x="1711" y="1841" width="44" height="55" fill="#e6d08f" stroke="#1f1e1c" stroke-width="2"/>
<use href="#bodys" fill="#e9e9eb" stroke="#1f1e1c" stroke-width="2.3" stroke-linejoin="round"/>
<path d="M1696.7,1780.0 L1520.1,1780.0 L1497.9,1792.0 L1497.9,1805.5 L1500.4,1807.2 L1680.2,1807.2 L1682.1,1808.8 L1713.2,1808.8 L1715.1,1796.5 Z" fill="url(#hs)" stroke="#2d3e4e" stroke-width="1.5"/>
<path d="M1783.7,1780.0 L1774.5,1780.0 L1755.4,1798.0 L1756.1,1807.8 L1790.9,1807.8 L1790.9,1785.0 Q1790.7,1780.0 1783.7,1780.0 Z" fill="url(#hs)" stroke="#2d3e4e" stroke-width="1.5"/>
<path d="M1450.2,1684.0 C1444.9,1685.2 1431.6,1686.7 1418.1,1691.2 C1404.5,1695.7 1381.0,1704.8 1368.9,1710.7 C1356.8,1716.5 1354.0,1719.1 1345.7,1726.0 C1337.5,1732.9 1326.5,1744.7 1319.3,1752.1 C1312.2,1759.4 1308.3,1764.8 1302.8,1770.0 C1297.4,1775.1 1289.2,1780.6 1286.5,1782.3 L1268.5,1797.8 L1269.2,1808.8 L1299.7,1808.8 C1300.2,1808.3 1300.9,1808.0 1302.8,1805.5 C1304.7,1803.0 1307.0,1799.3 1311.1,1794.0 C1315.2,1788.7 1320.7,1780.4 1327.6,1771.6 C1334.5,1762.7 1343.4,1752.4 1352.4,1744.0 C1361.4,1735.6 1373.7,1726.7 1381.9,1721.0 C1390.1,1715.3 1394.2,1712.4 1401.6,1709.7 C1409.0,1707.1 1418.8,1707.4 1426.3,1705.0 C1433.7,1702.6 1442.0,1698.8 1446.0,1695.3 C1450.0,1691.8 1449.5,1685.9 1450.2,1684.0 Z" fill="url(#hs)" stroke="#2d3e4e" stroke-width="1.5"/>
<path d="M1207.5,1780.0 L1199.3,1780.0 L1191.0,1786.2 L1192.9,1808.8 L1227.2,1808.8 L1228.5,1797.8 Z" fill="url(#hs)" stroke="#2d3e4e" stroke-width="1.5"/>
<path d="M1287.3,1780.0 L1207.5,1780.0 L1229.1,1797.8 L1229.1,1808.8 L1267.6,1808.8 L1267.6,1797.8 Z" fill="#fbfbfb" stroke="#1f1e1c" stroke-width="1.5"/>
<path d="M1774.2,1780.0 L1696.7,1780.0 L1714.5,1797.0 L1714.5,1808.8 L1755.2,1808.8 L1755.2,1798.0 Z" fill="#f4f4f4" stroke="none"/>
<g clip-path="url(#clipSmall)"><g clip-path="url(#clipAbove)">
<g transform="translate(1529,1780) rotate(-46.2)"><rect x="-30" y="0" width="230" height="21" fill="url(#rg)"/><line x1="-30" y1="0" x2="200" y2="0" stroke="#1f1e1c" stroke-width="2.2"/></g>
<g transform="translate(1558,1780) rotate(-46.2)"><rect x="-30" y="0" width="230" height="23" fill="url(#rg)"/><line x1="-30" y1="0" x2="200" y2="0" stroke="#1f1e1c" stroke-width="2.2"/></g>
<g transform="translate(1590,1780) rotate(-46.2)"><rect x="-30" y="0" width="230" height="23" fill="url(#rg)"/><line x1="-30" y1="0" x2="200" y2="0" stroke="#1f1e1c" stroke-width="2.2"/></g>
<g transform="translate(1622,1780) rotate(-46.2)"><rect x="-30" y="0" width="230" height="40" fill="url(#rg2)"/><line x1="-30" y1="0" x2="200" y2="0" stroke="#1f1e1c" stroke-width="2.2"/></g>
</g></g>
<path d="M1179,1840 L1186,1817 L1294.5,1817 L1296,1823 L1503,1823 L1505,1817 L1790,1817 L1798,1840 Z" fill="#454545" stroke="#1f1e1c" stroke-width="2.5" stroke-linejoin="round"/>
<line x1="1179" y1="1839.5" x2="1798" y2="1839.5" stroke="#1f1e1c" stroke-width="4"/>
<line x1="1296" y1="1823" x2="1296" y2="1839" stroke="#1f1e1c" stroke-width="2.5"/>
<line x1="1503" y1="1823" x2="1503" y2="1839" stroke="#1f1e1c" stroke-width="2.5"/>
<circle cx="1436.3" cy="1793.3" r="35.2" fill="#a6a7a7" stroke="#1f1e1c" stroke-width="3.4"/>
<circle cx="1436.3" cy="1793.3" r="24" fill="none" stroke="#b4b5b5" stroke-width="6"/>
<circle cx="1436.3" cy="1793.3" r="10.2" fill="#fbfbfb" stroke="#1f1e1c" stroke-width="3.2"/>
<path d="M1231.0,1807.0 L1237.0,1803.0 L1259.0,1803.0 L1265.0,1807.0 L1259.0,1810.9 L1237.0,1810.9 Z" fill="#fbfbfb" stroke="#1f1e1c" stroke-width="1.4" stroke-linejoin="round"/><path d="M1231.0,1814.9 L1237.0,1810.9 L1259.0,1810.9 L1265.0,1814.9 L1259.0,1818.8 L1237.0,1818.8 Z" fill="#fbfbfb" stroke="#1f1e1c" stroke-width="1.4" stroke-linejoin="round"/><path d="M1231.0,1822.8 L1237.0,1818.8 L1259.0,1818.8 L1265.0,1822.8 L1259.0,1826.7 L1237.0,1826.7 Z" fill="#fbfbfb" stroke="#1f1e1c" stroke-width="1.4" stroke-linejoin="round"/><path d="M1231.0,1830.7 L1237.0,1826.7 L1259.0,1826.7 L1265.0,1830.7 L1259.0,1834.6 L1237.0,1834.6 Z" fill="#fbfbfb" stroke="#1f1e1c" stroke-width="1.4" stroke-linejoin="round"/><path d="M1231.0,1838.6 L1237.0,1834.6 L1259.0,1834.6 L1265.0,1838.6 L1259.0,1842.5 L1237.0,1842.5 Z" fill="#fbfbfb" stroke="#1f1e1c" stroke-width="1.4" stroke-linejoin="round"/><path d="M1231.0,1846.5 L1237.0,1842.5 L1259.0,1842.5 L1265.0,1846.5 L1259.0,1850.4 L1237.0,1850.4 Z" fill="#fbfbfb" stroke="#1f1e1c" stroke-width="1.4" stroke-linejoin="round"/><path d="M1231.0,1854.4 L1237.0,1850.4 L1259.0,1850.4 L1265.0,1854.4 L1259.0,1858.3 L1237.0,1858.3 Z" fill="#fbfbfb" stroke="#1f1e1c" stroke-width="1.4" stroke-linejoin="round"/><path d="M1231.0,1862.3 L1237.0,1858.3 L1259.0,1858.3 L1265.0,1862.3 L1259.0,1866.2 L1237.0,1866.2 Z" fill="#fbfbfb" stroke="#1f1e1c" stroke-width="1.4" stroke-linejoin="round"/><path d="M1231.0,1870.2 L1237.0,1866.2 L1259.0,1866.2 L1265.0,1870.2 L1259.0,1874.1 L1237.0,1874.1 Z" fill="#fbfbfb" stroke="#1f1e1c" stroke-width="1.4" stroke-linejoin="round"/><path d="M1231.0,1878.1 L1237.0,1874.1 L1259.0,1874.1 L1265.0,1878.1 L1259.0,1882.0 L1237.0,1882.0 Z" fill="#fbfbfb" stroke="#1f1e1c" stroke-width="1.4" stroke-linejoin="round"/><path d="M1231.0,1886.0 L1237.0,1882.0 L1259.0,1882.0 L1265.0,1886.0 L1259.0,1889.9 L1237.0,1889.9 Z" fill="#fbfbfb" stroke="#1f1e1c" stroke-width="1.4" stroke-linejoin="round"/><path d="M1231.0,1893.5 L1237.0,1889.9 L1259.0,1889.9 L1265.0,1893.5 L1259.0,1897.0 L1237.0,1897.0 Z" fill="#fbfbfb" stroke="#1f1e1c" stroke-width="1.4" stroke-linejoin="round"/>
<path d="M1211.5,1780 L1284.5,1780 L1266,1804 L1230,1804 Z" fill="#fbfbfb" stroke="#1f1e1c" stroke-width="2" stroke-linejoin="round"/>
<path d="M1231.0,1933.8 L1237.0,1930.0 L1259.0,1930.0 L1265.0,1933.8 L1259.0,1937.5 L1237.0,1937.5 Z" fill="#fbfbfb" stroke="#1f1e1c" stroke-width="1.4" stroke-linejoin="round"/><path d="M1231.0,1941.2 L1237.0,1937.5 L1259.0,1937.5 L1265.0,1941.2 L1259.0,1945.0 L1237.0,1945.0 Z" fill="#fbfbfb" stroke="#1f1e1c" stroke-width="1.4" stroke-linejoin="round"/>
<rect x="1198" y="1898.5" width="99" height="8" fill="#fbfbfb" stroke="#1f1e1c" stroke-width="2"/>
<path d="M1215,1907 L1281,1907 L1281,1925 L1276,1930 L1220,1930 L1215,1925 Z" fill="#fbfbfb" stroke="#1f1e1c" stroke-width="2" stroke-linejoin="round"/>
<path d="M1231,1907 V1924 Q1248,1932 1265,1924 V1907" fill="none" stroke="#1f1e1c" stroke-width="1.4"/>
<path d="M1716.0,1807.0 L1722.0,1803.0 L1744.0,1803.0 L1750.0,1807.0 L1744.0,1810.9 L1722.0,1810.9 Z" fill="#fbfbfb" stroke="#1f1e1c" stroke-width="1.4" stroke-linejoin="round"/><path d="M1716.0,1814.9 L1722.0,1810.9 L1744.0,1810.9 L1750.0,1814.9 L1744.0,1818.8 L1722.0,1818.8 Z" fill="#fbfbfb" stroke="#1f1e1c" stroke-width="1.4" stroke-linejoin="round"/><path d="M1716.0,1822.8 L1722.0,1818.8 L1744.0,1818.8 L1750.0,1822.8 L1744.0,1826.7 L1722.0,1826.7 Z" fill="#fbfbfb" stroke="#1f1e1c" stroke-width="1.4" stroke-linejoin="round"/><path d="M1716.0,1830.7 L1722.0,1826.7 L1744.0,1826.7 L1750.0,1830.7 L1744.0,1834.6 L1722.0,1834.6 Z" fill="#fbfbfb" stroke="#1f1e1c" stroke-width="1.4" stroke-linejoin="round"/><path d="M1716.0,1838.6 L1722.0,1834.6 L1744.0,1834.6 L1750.0,1838.6 L1744.0,1842.5 L1722.0,1842.5 Z" fill="#fbfbfb" stroke="#1f1e1c" stroke-width="1.4" stroke-linejoin="round"/><path d="M1716.0,1846.5 L1722.0,1842.5 L1744.0,1842.5 L1750.0,1846.5 L1744.0,1850.4 L1722.0,1850.4 Z" fill="#fbfbfb" stroke="#1f1e1c" stroke-width="1.4" stroke-linejoin="round"/><path d="M1716.0,1854.4 L1722.0,1850.4 L1744.0,1850.4 L1750.0,1854.4 L1744.0,1858.3 L1722.0,1858.3 Z" fill="#fbfbfb" stroke="#1f1e1c" stroke-width="1.4" stroke-linejoin="round"/><path d="M1716.0,1862.3 L1722.0,1858.3 L1744.0,1858.3 L1750.0,1862.3 L1744.0,1866.2 L1722.0,1866.2 Z" fill="#fbfbfb" stroke="#1f1e1c" stroke-width="1.4" stroke-linejoin="round"/><path d="M1716.0,1870.2 L1722.0,1866.2 L1744.0,1866.2 L1750.0,1870.2 L1744.0,1874.1 L1722.0,1874.1 Z" fill="#fbfbfb" stroke="#1f1e1c" stroke-width="1.4" stroke-linejoin="round"/><path d="M1716.0,1878.1 L1722.0,1874.1 L1744.0,1874.1 L1750.0,1878.1 L1744.0,1882.0 L1722.0,1882.0 Z" fill="#fbfbfb" stroke="#1f1e1c" stroke-width="1.4" stroke-linejoin="round"/><path d="M1716.0,1886.0 L1722.0,1882.0 L1744.0,1882.0 L1750.0,1886.0 L1744.0,1889.9 L1722.0,1889.9 Z" fill="#fbfbfb" stroke="#1f1e1c" stroke-width="1.4" stroke-linejoin="round"/><path d="M1716.0,1893.5 L1722.0,1889.9 L1744.0,1889.9 L1750.0,1893.5 L1744.0,1897.0 L1722.0,1897.0 Z" fill="#fbfbfb" stroke="#1f1e1c" stroke-width="1.4" stroke-linejoin="round"/>
<path d="M1696.5,1780 L1769.5,1780 L1751,1804 L1715,1804 Z" fill="#fbfbfb" stroke="#1f1e1c" stroke-width="2" stroke-linejoin="round"/>
<path d="M1716.0,1933.8 L1722.0,1930.0 L1744.0,1930.0 L1750.0,1933.8 L1744.0,1937.5 L1722.0,1937.5 Z" fill="#fbfbfb" stroke="#1f1e1c" stroke-width="1.4" stroke-linejoin="round"/><path d="M1716.0,1941.2 L1722.0,1937.5 L1744.0,1937.5 L1750.0,1941.2 L1744.0,1945.0 L1722.0,1945.0 Z" fill="#fbfbfb" stroke="#1f1e1c" stroke-width="1.4" stroke-linejoin="round"/>
<rect x="1683" y="1898.5" width="99" height="8" fill="#fbfbfb" stroke="#1f1e1c" stroke-width="2"/>
<path d="M1700,1907 L1766,1907 L1766,1925 L1761,1930 L1705,1930 L1700,1925 Z" fill="#fbfbfb" stroke="#1f1e1c" stroke-width="2" stroke-linejoin="round"/>
<path d="M1716,1907 V1924 Q1733,1932 1750,1924 V1907" fill="none" stroke="#1f1e1c" stroke-width="1.4"/>
<path d="M1374.2,2003 L1374.2,1785 C1374.2,1765 1384,1740 1423,1730.3 L1464,1724 C1476.7,1723.0 1521.1,1719.7 1540.0,1718.0 C1558.9,1716.3 1558.4,1715.8 1577.6,1714.0 C1596.8,1712.2 1633.4,1711.7 1655.0,1707.4 C1676.6,1703.1 1689.7,1696.4 1707.0,1688.0 C1724.3,1679.6 1739.4,1665.0 1758.8,1657.0 C1778.2,1649.0 1805.0,1643.0 1823.5,1640.0 C1842.0,1637.0 1854.9,1639.0 1870.0,1638.8 C1885.1,1638.6 1906.7,1638.8 1914.0,1638.8 Q1911,1647 1915,1654 Q1911,1662 1914,1670 C1906.7,1670.0 1883.0,1669.8 1870.0,1670.0 C1857.0,1670.2 1850.2,1668.4 1836.0,1671.0 C1821.8,1673.6 1801.9,1678.2 1784.7,1685.4 C1767.5,1692.6 1750.3,1705.8 1733.0,1714.0 C1715.7,1722.2 1702.6,1729.7 1681.0,1734.6 C1659.4,1739.5 1627.0,1741.4 1603.5,1743.6 C1580.0,1745.8 1563.2,1745.9 1540.0,1747.5 C1516.8,1749.1 1476.7,1752.1 1464.0,1753.0 L1425,1757 C1405,1759.5 1398,1766 1398,1782 L1398,2003 Z" fill="#f28a0c"/>
<path d="M1374.2,2003 L1374.2,1785 C1374.2,1765 1384,1740 1423,1730.3 L1464,1724 C1476.7,1723.0 1521.1,1719.7 1540.0,1718.0 C1558.9,1716.3 1558.4,1715.8 1577.6,1714.0 C1596.8,1712.2 1633.4,1711.7 1655.0,1707.4 C1676.6,1703.1 1689.7,1696.4 1707.0,1688.0 C1724.3,1679.6 1739.4,1665.0 1758.8,1657.0 C1778.2,1649.0 1805.0,1643.0 1823.5,1640.0 C1842.0,1637.0 1854.9,1639.0 1870.0,1638.8 C1885.1,1638.6 1906.7,1638.8 1914.0,1638.8" fill="none" stroke="#1f1e1c" stroke-width="3"/>
<path d="M1914.0,1670.0 C1906.7,1670.0 1883.0,1669.8 1870.0,1670.0 C1857.0,1670.2 1850.2,1668.4 1836.0,1671.0 C1821.8,1673.6 1801.9,1678.2 1784.7,1685.4 C1767.5,1692.6 1750.3,1705.8 1733.0,1714.0 C1715.7,1722.2 1702.6,1729.7 1681.0,1734.6 C1659.4,1739.5 1627.0,1741.4 1603.5,1743.6 C1580.0,1745.8 1563.2,1745.9 1540.0,1747.5 C1516.8,1749.1 1476.7,1752.1 1464.0,1753.0 L1425,1757 C1405,1759.5 1398,1766 1398,1782 L1398,2003" fill="none" stroke="#1f1e1c" stroke-width="3"/>
<text transform="translate(1281.51,1663.40) scale(1.0667,1)" font-size="57" font-weight="bold" fill="#2b2a28" >CL230</text>
<text transform="translate(1060.50,1738.50) scale(1.0674,1)" font-size="57" font-weight="bold" fill="#2b2a28" >CL824</text>
<line x1="1470.5" y1="1648" x2="1496" y2="1668.6" stroke="#1f1e1c" stroke-width="6"/>
<line x1="1095" y1="1749" x2="1182" y2="1831.6" stroke="#1f1e1c" stroke-width="6"/>
</svg>
</body></html>
